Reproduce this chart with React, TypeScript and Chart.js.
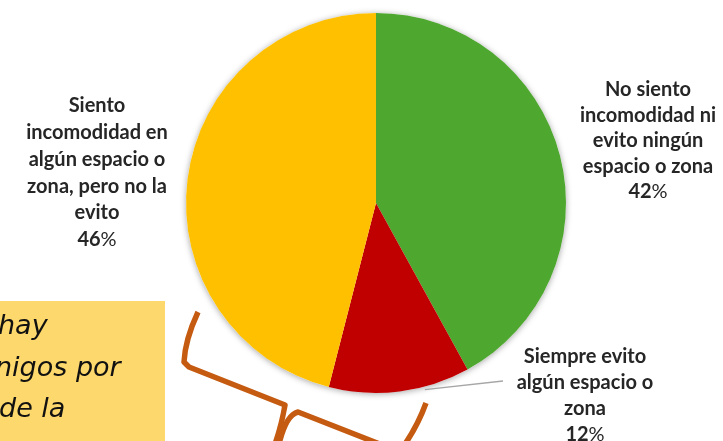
import React, { useEffect, useRef } from "react";
import { Chart, registerables } from "chart.js";

Chart.register(...registerables);

const categories: string[][] = [
  ["No siento", "incomodidad ni", "evito ningún", "espacio o zona"],
  ["Siempre evito", "algún espacio o", "zona"],
  ["Siento", "incomodidad en", "algún espacio o", "zona, pero no la", "evito"],
];
const values: number[] = [42, 12, 46];
const percentNumbers: string[] = ["42", "12", "46"];
const colors: string[] = ["#4EA72E", "#C00000", "#FFC000"];
const noteLines: string[] = ["hay", "nigos por", "de la"];

const labelLayout = [
  { x: 648, y: 90, step: 25.5 },
  { x: 585, y: 357, step: 26 },
  { x: 97, y: 106, step: 26.7 },
];

const W = 723;
const H = 441;

export default function App() {
  const ref = useRef<HTMLCanvasElement | null>(null);
  useEffect(() => {
    document.body.style.margin = "0";
    const canvas = ref.current!;
    const backPlugin = {
      id: "back",
      beforeDraw(chart: any) {
        const ctx = chart.ctx as CanvasRenderingContext2D;
        ctx.save();
        ctx.fillStyle = "#FDD86C";
        ctx.fillRect(0, 301, 165, H - 301);
        ctx.fillStyle = "#111111";
        ctx.font = "italic 27px 'DejaVu Sans'";
        ctx.textAlign = "left";
        ctx.textBaseline = "alphabetic";
        const xs = [-2, -5, -1];
        const ys = [334, 376, 417];
        noteLines.forEach((t, i) => ctx.fillText(t, xs[i], ys[i]));
        ctx.restore();
      },
      beforeDatasetsDraw(chart: any) {
        const arc = chart.getDatasetMeta(0).data[0];
        if (!arc) return;
        const ctx = chart.ctx as CanvasRenderingContext2D;
        ctx.save();
        ctx.shadowColor = "rgba(0,0,0,0.35)";
        ctx.shadowBlur = 6;
        ctx.shadowOffsetY = 1;
        ctx.fillStyle = "#ffffff";
        ctx.beginPath();
        ctx.arc(arc.x, arc.y, arc.outerRadius, 0, Math.PI * 2);
        ctx.fill();
        ctx.restore();
      },
      afterDraw(chart: any) {
        const ctx = chart.ctx as CanvasRenderingContext2D;
        const meta = chart.getDatasetMeta(0);
        ctx.save();
        const a = meta.data[1];
        const mid = (a.startAngle + a.endAngle) / 2;
        const px = a.x + Math.cos(mid - 0.13) * (a.outerRadius + 3);
        const py = a.y + Math.sin(mid - 0.13) * (a.outerRadius + 3);
        ctx.strokeStyle = "#A6A6A6";
        ctx.lineWidth = 1.3;
        ctx.beginPath();
        ctx.moveTo(px, py);
        ctx.lineTo(503, 381);
        ctx.stroke();
        ctx.textBaseline = "middle";
        ctx.fillStyle = "#262626";
        categories.forEach((lines, i) => {
          const L = labelLayout[i];
          ctx.textAlign = "center";
          ctx.font = "bold 20px Lato";
          lines.forEach((t, j) => ctx.fillText(t, L.x, L.y + j * L.step));
          const py2 = L.y + lines.length * L.step;
          const num = percentNumbers[i];
          const wn = ctx.measureText(num).width;
          ctx.font = "20px Lato";
          const wp = ctx.measureText("%").width;
          const x0 = L.x - (wn + wp) / 2;
          ctx.textAlign = "left";
          ctx.font = "bold 20px Lato";
          ctx.fillText(num, x0, py2);
          ctx.font = "20px Lato";
          ctx.fillText("%", x0 + wn, py2);
        });
        ctx.strokeStyle = "#C55A11";
        ctx.lineWidth = 5.5;
        ctx.lineJoin = "round";
        ctx.lineCap = "butt";
        ctx.beginPath();
        ctx.moveTo(198, 312);
        ctx.quadraticCurveTo(185, 340, 184, 362);
        ctx.lineTo(189, 367);
        ctx.lineTo(285, 405);
        ctx.quadraticCurveTo(282, 424, 275, 444);
        ctx.stroke();
        ctx.beginPath();
        ctx.moveTo(279, 444);
        ctx.quadraticCurveTo(286, 415, 298, 412);
        ctx.lineTo(400, 452);
        ctx.stroke();
        ctx.beginPath();
        ctx.moveTo(426, 403);
        ctx.quadraticCurveTo(418, 425, 405, 444);
        ctx.stroke();
        ctx.restore();
      },
    };
    const chart = new Chart(canvas, {
      type: "pie",
      data: {
        labels: categories.map((c) => c.join(" ")),
        datasets: [
          {
            data: values,
            backgroundColor: colors,
            borderWidth: 0,
          },
        ],
      },
      options: {
        animation: false,
        responsive: false,
        layout: { padding: { left: 186, right: 157, top: 13, bottom: 48 } },
        plugins: { legend: { display: false }, tooltip: { enabled: false } },
      },
      plugins: [backPlugin],
    });
    return () => chart.destroy();
  }, []);
  return (
    <div style={{ position: "fixed", left: 0, top: 0, width: W, height: H, background: "#fff" }}>
      <canvas ref={ref} width={W} height={H} style={{ width: W, height: H, display: "block" }} />
    </div>
  );
}
